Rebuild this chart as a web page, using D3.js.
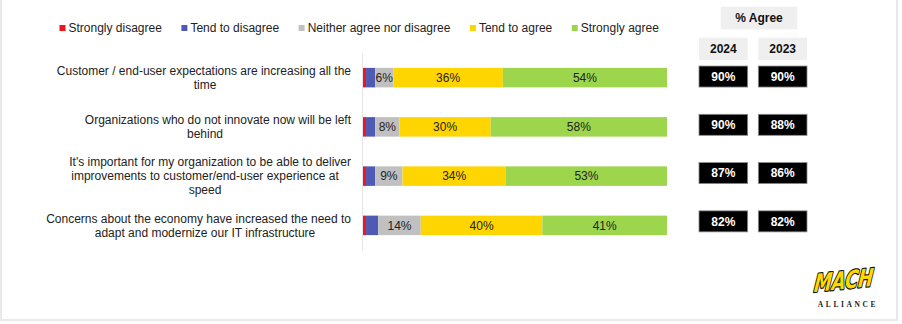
<!DOCTYPE html>
<html><head><meta charset="utf-8">
<script src="https://cdn.jsdelivr.net/npm/d3@7"></script>
<style>
html,body{margin:0;padding:0;background:#fff;}
svg{display:block;font-family:"Liberation Sans",Arial,Helvetica,sans-serif;}
</style></head>
<body>
<svg id="chart" width="902" height="324"></svg>
<script>
// ---- data ----
const series = ["Strongly disagree","Tend to disagree","Neither agree nor disagree","Tend to agree","Strongly agree"];
const seriesColors = ["#f0141e","#4e5ab4","#c0c0c0","#ffd500","#9dd64c"];
const categories = [
  "Customer / end-user expectations are increasing all the time",
  "Organizations who do not innovate now will be left behind",
  "It's important for my organization to be able to deliver improvements to customer/end-user experience at speed",
  "Concerns about the economy have increased the need to adapt and modernize our IT infrastructure"
];
const categoryLines = [
  ["Customer / end-user expectations are increasing all the","time"],
  ["Organizations who do not innovate now will be left","behind"],
  ["It's important for my organization to be able to deliver","improvements to customer/end-user experience at","speed"],
  ["Concerns about the economy have increased the need to","adapt and modernize our IT infrastructure"]
];
const stronglyDisagree = [1,1,1,1];
const tendToDisagree   = [3,3,3,4];
const neither          = [6,8,9,14];
const tendToAgree      = [36,30,34,40];
const stronglyAgree    = [54,58,53,41];
const labelShown = [false,false,true,true,true];
const agreeYears = ["2024","2023"];
const agree2024 = [90,90,87,82];
const agree2023 = [90,88,86,82];

const seriesValues = [stronglyDisagree,tendToDisagree,neither,tendToAgree,stronglyAgree];
const rows = categories.map((c,i)=>{
  const o={cat:c}; series.forEach((s,j)=>o[s]=seriesValues[j][i]); return o;
});
const stacked = d3.stack().keys(series)(rows);

const svg = d3.select("#chart");

// frame
svg.append("rect").attr("x",1).attr("y",-4).attr("width",896).attr("height",324)
  .attr("fill","none").attr("stroke","#e9e9e9").attr("stroke-width",2);

// scales
const x = d3.scaleLinear().domain([0,100]).range([363,667]);
const y = d3.scaleBand().domain(categories).range([53,250]);
const barH = 19.5;

// axis line
svg.append("g").attr("transform","translate(362,0)")
  .call(d3.axisLeft(d3.scaleLinear().domain([0,1]).range([53,250])).ticks(0).tickSize(0))
  .call(g=>g.select(".domain").attr("stroke","#e4e4e4").attr("stroke-width",1))
  .selectAll("text").remove();

// bars
const layer = svg.append("g").selectAll("g").data(stacked).join("g")
  .attr("fill",(d,i)=>seriesColors[i]);
layer.selectAll("rect").data(d=>d).join("rect")
  .attr("x",d=>x(d[0])).attr("width",d=>x(d[1])-x(d[0]))
  .attr("y",d=>y(d.data.cat)+y.bandwidth()/2-barH/2).attr("height",barH);

// bar labels
stacked.forEach((s,i)=>{
  if(!labelShown[i]) return;
  svg.append("g").selectAll("text").data(s).join("text")
    .attr("x",d=>(x(d[0])+x(d[1]))/2)
    .attr("y",d=>y(d.data.cat)+y.bandwidth()/2)
    .attr("dy","0.36em").attr("text-anchor","middle")
    .attr("font-size",12).attr("fill","#222")
    .text(d=>(d[1]-d[0])+"%");
});

// category labels: first line flush right, following lines centred
const lineH = 14;
categoryLines.forEach((lines,i)=>{
  const cy = y(categories[i])+y.bandwidth()/2;
  lines.forEach((l,k)=>{
    const first = k===0;
    svg.append("text").attr("font-size",12).attr("fill","#222")
      .attr("text-anchor", first ? "end" : "middle")
      .attr("x", first ? 351 : 205)
      .attr("y",cy+(k-(lines.length-1)/2)*lineH).attr("dy","0.36em").text(l);
  });
});

// legend
let lx = 59.5;
const leg = svg.append("g");
series.forEach((s,i)=>{
  leg.append("rect").attr("x",lx).attr("y",25).attr("width",6).attr("height",6).attr("fill",seriesColors[i]);
  const t = leg.append("text").attr("x",lx+9).attr("y",28).attr("dy","0.36em")
    .attr("font-size",12).attr("fill","#222").text(s);
  lx += 9 + t.node().getComputedTextLength() + 19.5;
});

// % Agree table
const tx = d3.scaleBand().domain(agreeYears).range([699,807]).paddingInner(0.18);
const ty = d3.scaleBand().domain(categories).range([52.4,245.5]);
const boxH = 21;
svg.append("rect").attr("x",720.7).attr("y",6.7).attr("width",76.6).attr("height",22.6).attr("fill","#efefef");
svg.append("text").attr("x",759).attr("y",18).attr("dy","0.36em").attr("text-anchor","middle")
  .attr("font-size",12).attr("font-weight","bold").attr("fill","#111").text("% Agree");
agreeYears.forEach(yr=>{
  svg.append("rect").attr("x",tx(yr)).attr("y",37.7).attr("width",tx.bandwidth()).attr("height",22.3).attr("fill","#efefef");
  svg.append("text").attr("x",tx(yr)+tx.bandwidth()/2).attr("y",49).attr("dy","0.36em")
    .attr("text-anchor","middle").attr("font-size",12).attr("font-weight","bold").attr("fill","#111").text(yr);
});
const agreeVals = {"2024":agree2024,"2023":agree2023};
agreeYears.forEach(yr=>{
  const g = svg.append("g");
  g.selectAll("rect").data(agreeVals[yr]).join("rect")
    .attr("x",tx(yr)).attr("width",tx.bandwidth())
    .attr("y",(d,i)=>ty(categories[i])+ty.bandwidth()/2-boxH/2).attr("height",boxH)
    .attr("fill","#000").attr("stroke","#8a8a8a").attr("stroke-width",0.8);
  g.selectAll("text").data(agreeVals[yr]).join("text")
    .attr("x",tx(yr)+tx.bandwidth()/2)
    .attr("y",(d,i)=>ty(categories[i])+ty.bandwidth()/2).attr("dy","0.36em")
    .attr("text-anchor","middle").attr("font-size",12).attr("font-weight","bold").attr("fill","#fff")
    .text(d=>d+"%");
});

// logo
const logo = svg.append("g").attr("transform","translate(844,280) skewX(-12) rotate(-6)");
logo.append("text").attr("x",0).attr("y",0).attr("dy","0.36em").attr("text-anchor","middle")
  .attr("font-family","'DejaVu Sans',sans-serif").attr("font-weight","bold").attr("font-style","italic")
  .attr("font-size",25).attr("textLength",58).attr("lengthAdjust","spacingAndGlyphs")
  .attr("fill","#ffd800").attr("stroke","#111").attr("stroke-width",2.4).attr("paint-order","stroke")
  .attr("stroke-linejoin","round").text("MACH");
svg.append("text").attr("x",848).attr("y",304).attr("dy","0.36em").attr("text-anchor","middle")
  .attr("font-family","'Liberation Serif',serif").attr("font-weight","bold").attr("font-size",7.5)
  .attr("letter-spacing",2.6).attr("fill","#222").text("ALLIANCE");
</script>
</body></html>
